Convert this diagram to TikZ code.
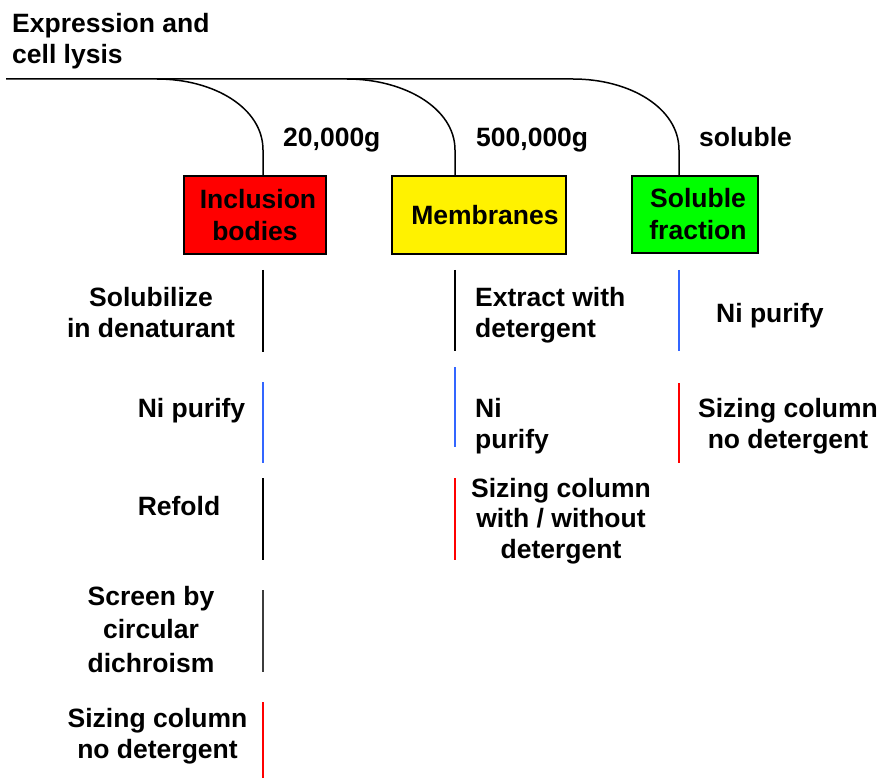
\documentclass[tikz,border=0pt]{standalone}
\usepackage{fontspec}
\setmainfont{Liberation Sans}
\definecolor{barblue}{RGB}{51,102,255}
\definecolor{bargray}{RGB}{60,60,60}
\begin{document}
\begin{tikzpicture}[x=1pt,y=-1pt,
  lbl/.style={font=\bfseries\fontsize{26.5}{31}\selectfont, inner sep=0pt},
  box/.style={draw=black, line width=2pt, inner sep=0pt, align=center,
    font=\bfseries\fontsize{26.5}{32}\selectfont},
  curve/.style={line width=1.5pt},
  bar/.style={line width=1.5pt}]
\useasboundingbox (0,0) rectangle (884,778);

% title (anchor base = baseline of last line)
\node[lbl, anchor=base west, align=left] (title) at (12,64) {Expression and\\cell lysis};

% boxes
\node[box, fill=red, minimum width=142pt, minimum height=78pt] (ib) at (255,215) {\hspace*{6pt}Inclusion\\bodies};
\node[box, fill=yellow, minimum width=174pt, minimum height=78pt] (mb) at (479,215) {\hspace*{12pt}Membranes};
\node[box, fill=green, minimum width=126pt, minimum height=77pt] (sf) at (695,214.5) {\hspace*{6pt}Soluble\\\hspace*{6pt}fraction};

% main line and branches
\coordinate (start) at (6,79);
\coordinate (b1) at (157,79);
\coordinate (b2) at (347,79);
\coordinate (b3) at (573,79);
\draw[curve] (start) -- (b3) .. controls (630,79) and (679,108) .. (679,150) -- ([xshift=-16pt]sf.north);
\draw[curve] (b1) .. controls (214,79) and (263,108) .. (263,150) -- ([xshift=8pt]ib.north);
\draw[curve] (b2) .. controls (404,79) and (455,108) .. (455,150) -- ([xshift=-24pt]mb.north);

% centrifugation labels
\node[lbl, anchor=base west] (g1) at (283,147) {20,000g};
\node[lbl, anchor=base west] (g2) at (476,147) {500,000g};
\node[lbl, anchor=base west] (g3) at (699,147) {soluble};

% left column
\draw[bar, black] (263,270) -- (263,352);
\node[lbl, anchor=base, align=center] (l1) at (151,337) {Solubilize\\in denaturant};
\draw[bar, barblue] (263,382) -- (263,463);
\node[lbl, anchor=base] (l2) at (191.5,417) {Ni purify};
\draw[bar, black] (263,478) -- (263,560);
\node[lbl, anchor=base] (l3) at (179,515) {Refold};
\draw[bar, bargray] (263,590) -- (263,672);
\node[lbl, anchor=base, align=center, font=\bfseries\fontsize{26.5}{33.5}\selectfont] (l4) at (151,672) {Screen by\\circular\\dichroism};
\draw[bar, red] (263,702) -- (263,778);
\node[lbl, anchor=base, align=center] (l5) at (157.5,758) {Sizing column\\no detergent};

% middle column
\draw[bar, black] (455,270) -- (455,351);
\node[lbl, anchor=base west, align=left] (m1) at (475,337) {Extract with\\detergent};
\draw[bar, barblue] (455,367) -- (455,447);
\node[lbl, anchor=base west, align=left] (m2) at (475,448) {Ni\\purify};
\draw[bar, red] (455,478) -- (455,560);
\node[lbl, anchor=base, align=center, font=\bfseries\fontsize{26.5}{30.5}\selectfont] (m3) at (561,558) {Sizing column\\with / without\\detergent};

% right column
\draw[bar, barblue] (679,270) -- (679,351);
\node[lbl, anchor=base west] (r1) at (716,323) {Ni purify};
\draw[bar, red] (679,383) -- (679,463);
\node[lbl, anchor=base, align=center] (r2) at (788,448) {Sizing column\\no detergent};
\end{tikzpicture}
\end{document}
